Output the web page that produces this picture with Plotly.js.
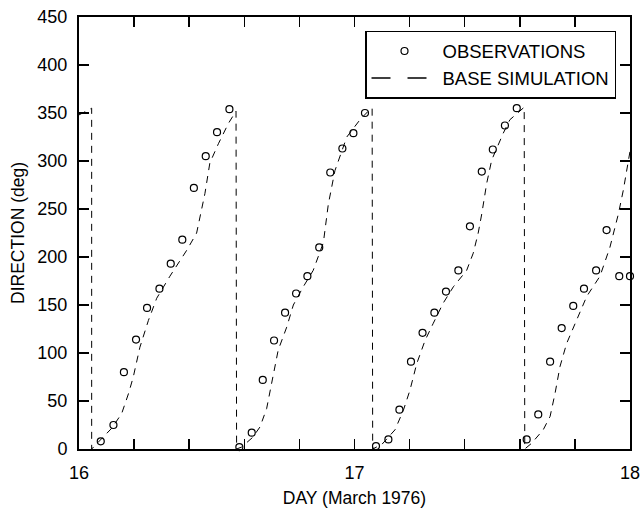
<!DOCTYPE html>
<html>
<head>
<meta charset="utf-8">
<script src="https://cdn.plot.ly/plotly-3.0.1.min.js"></script>
<style>html,body{margin:0;padding:0;background:#fff;}#chart{width:641px;height:512px;}</style>
</head>
<body>
<div id="chart"></div>
<script>
// Observations (day, direction in degrees)
const obsDay = [16.079,16.125,16.163,16.207,16.247,16.292,16.333,16.375,16.417,16.460,16.501,16.546,
                16.582,16.627,16.667,16.708,16.748,16.788,16.829,16.872,16.912,16.956,16.996,17.038,
                17.078,17.123,17.163,17.205,17.247,17.290,17.332,17.377,17.419,17.462,17.502,17.546,17.589,
                17.625,17.667,17.710,17.752,17.794,17.833,17.877,17.915,17.961,18.000];
const obsDir = [8,25,80,114,147,167,193,218,272,305,330,354,
                2,17,72,113,142,162,180,210,288,313,329,350,
                3,10,41,91,121,142,164,186,232,289,312,337,355,
                10,36,91,126,149,167,186,228,180,180];

// Base simulation (day, direction in degrees); wraps 360 -> 0 drawn as vertical drops
const simDay = [16.000,16.046,16.046,16.076,16.120,16.155,16.180,16.197,16.221,16.252,16.282,16.330,16.391,16.427,16.457,16.475,16.506,16.542,16.570,
                16.572,16.590,16.630,16.657,16.681,16.699,16.723,16.754,16.778,16.814,16.850,16.887,16.905,16.929,16.947,16.972,17.020,17.050,17.064,
                17.066,17.100,17.147,17.177,17.201,17.226,17.256,17.286,17.322,17.359,17.407,17.431,17.449,17.462,17.480,17.498,17.540,17.564,17.600,17.616,
                17.618,17.643,17.685,17.710,17.728,17.746,17.770,17.806,17.843,17.891,17.927,17.958,17.976,18.000];
const simDir = [348,355,0,9,22,37,58,75,106,134,157,180,207,225,266,298,318,339,352,
                0,2,12,23,42,68,103,127,150,169,186,215,255,290,305,325,343,352,355,
                0,5,20,40,61,89,113,131,152,169,186,204,225,245,277,301,329,343,352,356,
                0,6,20,34,58,86,110,134,159,180,210,245,270,310];

const xTickVals = [16,16.2,16.4,16.6,16.8,17,17.2,17.4,17.6,17.8,18];
const xTickText = ['16','','','','','17','','','','','18'];
const yTickVals = [0,50,100,150,200,250,300,350,400,450];

const seriesNames = ['OBSERVATIONS','BASE SIMULATION'];

const FONT = 'Liberation Sans, Arial, Helvetica, sans-serif';

const traces = [
  {
    x: obsDay, y: obsDir, mode: 'markers', type: 'scatter', name: seriesNames[0],
    marker: {symbol: 'circle-open', size: 7, color: '#000', line: {width: 1.2, color: '#000'}},
    cliponaxis: false
  },
  {
    x: simDay, y: simDir, mode: 'lines', type: 'scatter', name: seriesNames[1], showlegend: false,
    line: {color: '#000', width: 1, dash: '7px,6px'}
  },
  {
    x: [null], y: [null], mode: 'lines', type: 'scatter', name: seriesNames[1],
    line: {color: '#000', width: 1.6, dash: '19px,17px'}
  }
];

const layout = {
  width: 641, height: 512,
  margin: {l: 79, r: 11, t: 17, b: 63},
  paper_bgcolor: '#fff', plot_bgcolor: '#fff',
  font: {family: FONT, size: 18, color: '#000'},
  showlegend: true,
  legend: {
    x: 0.9746, xanchor: 'right', y: 0.9676, yanchor: 'top',
    bgcolor: '#fff', bordercolor: '#000', borderwidth: 1.5,
    font: {family: FONT, size: 18.5, color: '#000'},
    itemwidth: 66, tracegroupgap: 0
  },
  xaxis: {
    range: [16, 18], tickmode: 'array', tickvals: xTickVals, ticktext: xTickText,
    ticks: 'inside', ticklen: 10, tickwidth: 1.5, tickcolor: '#000',
    showline: true, linewidth: 2, linecolor: '#000', mirror: 'allticks',
    showgrid: false, zeroline: false,
    tickfont: {size: 18}, ticklabelstandoff: 6,
    title: {text: 'DAY (March 1976)', font: {size: 17.5}, standoff: 10}
  },
  yaxis: {
    range: [0, 450], tickmode: 'array', tickvals: yTickVals,
    ticks: 'inside', ticklen: 10, tickwidth: 1.5, tickcolor: '#000',
    showline: true, linewidth: 2, linecolor: '#000', mirror: 'allticks',
    showgrid: false, zeroline: false,
    tickfont: {size: 18}, ticklabelstandoff: 6,
    title: {text: 'DIRECTION (deg)', font: {size: 17.5}, standoff: 8}
  }
};

Plotly.newPlot('chart', traces, layout, {displayModeBar: false, staticPlot: true});
</script>
</body>
</html>
